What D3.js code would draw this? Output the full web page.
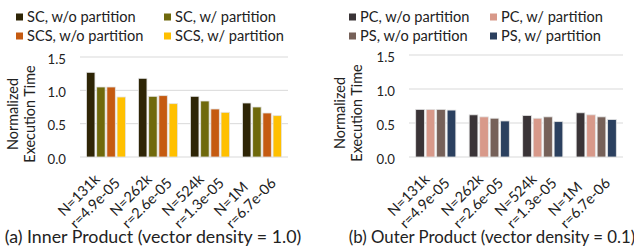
<!DOCTYPE html>
<html>
<head>
<meta charset="utf-8">
<script src="https://cdn.jsdelivr.net/npm/d3@7"></script>
<style>
  body { margin: 0; background: #fff; }
  svg { font-family: Lato, "Open Sans", sans-serif; fill: #222; }
</style>
</head>
<body>
<svg id="chart" width="634" height="249"></svg>
<script>
const groups = ["N=131k|r=4.9e-05", "N=262k|r=2.6e-05", "N=524k|r=1.3e-05", "N=1M|r=6.7e-06"];
const yTicks = [0, 0.5, 1.0, 1.5];

const innerSeries = ["SC, w/o partition", "SC, w/ partition", "SCS, w/o partition", "SCS, w/ partition"];
const innerColors = ["#2e2506", "#6f690c", "#c55a11", "#ffc000"];
const innerValues = [
  [1.27, 1.05, 1.05, 0.90],
  [1.18, 0.91, 0.92, 0.80],
  [0.91, 0.84, 0.72, 0.67],
  [0.81, 0.75, 0.66, 0.62]
];

const outerSeries = ["PC, w/o partition", "PC, w/ partition", "PS, w/o partition", "PS, w/ partition"];
const outerColors = ["#3a3437", "#d8998a", "#766159", "#2b405f"];
const outerValues = [
  [0.70, 0.70, 0.70, 0.69],
  [0.62, 0.59, 0.57, 0.53],
  [0.61, 0.57, 0.59, 0.52],
  [0.65, 0.62, 0.59, 0.55]
];

const svg = d3.select("#chart");

function panel(opt) {
  const g = svg.append("g");
  const x = d3.scaleBand().domain(groups).range([opt.left, opt.right])
    .paddingInner(0.25).paddingOuter(0.125);
  const xs = d3.scaleBand().domain(d3.range(4)).range([0, x.bandwidth()]).paddingInner(0.17);
  const y = d3.scaleLinear().domain([0, 1.5]).range([opt.bottom, opt.top]);

  // grid
  g.selectAll("line.grid").data(yTicks).join("line")
    .attr("x1", opt.left).attr("x2", opt.right)
    .attr("y1", d => y(d)).attr("y2", d => y(d))
    .attr("stroke", "#d9d9d9").attr("stroke-width", 1);

  g.selectAll("text.tick").data(yTicks).join("text")
    .attr("x", opt.left - 14).attr("y", d => y(d) + 2).attr("dy", "0.35em")
    .attr("text-anchor", "end").attr("font-size", 13.2)
    .text(d => d.toFixed(1));

  // axis title
  const ty = g.append("text")
    .attr("transform", `translate(${opt.titleX},${(opt.top + opt.bottom) / 2 + 7}) rotate(-90)`)
    .attr("text-anchor", "middle").attr("font-size", 14.4);
  ty.append("tspan").attr("x", 0).attr("dy", 0).text("Normalized");
  ty.append("tspan").attr("x", 0).attr("dy", 17).text("Execution Time");

  // bars
  const grp = g.selectAll("g.grp").data(opt.values).join("g")
    .attr("transform", (d, i) => `translate(${x(groups[i])},0)`);
  grp.selectAll("rect").data(d => d).join("rect")
    .attr("x", (d, j) => xs(j)).attr("width", xs.bandwidth())
    .attr("y", d => y(d)).attr("height", d => y(0) - y(d))
    .attr("fill", (d, j) => opt.colors[j])
    .attr("stroke", "#e3e3e3").attr("stroke-width", 0.8);

  // x labels, two lines rotated 45deg
  groups.forEach(gr => {
    const lines = gr.split("|");
    const t = g.append("text")
      .attr("font-size", 14.5)
      .attr("transform", `translate(${x(gr) + x.bandwidth() / 2 + 3},${opt.bottom + 15}) rotate(-45)`);
    const sp = lines.map((l, k) => t.append("tspan").attr("x", 0).attr("dy", k ? 17 : 0).text(l));
    const w = d3.max(sp, s => s.node().getComputedTextLength());
    sp.forEach(s => s.attr("x", -w));
  });

  // legend
  opt.series.forEach((s, i) => {
    const lx = i % 2 ? opt.legX2 : opt.legX1;
    const ly = i < 2 ? 17 : 36;
    g.append("rect").attr("x", lx).attr("y", ly - 3.5).attr("width", 7).attr("height", 7)
      .attr("fill", opt.colors[i]);
    g.append("text").attr("x", lx + 11).attr("y", ly).attr("dy", "0.35em")
      .attr("font-size", 14.6).text(s);
  });

  g.append("text").attr("x", opt.capX).attr("y", 237).attr("dy", "0.35em")
    .attr("text-anchor", "middle").attr("font-size", opt.capSize).text(opt.caption);
}

panel({
  left: 80, right: 288, top: 57, bottom: 157, titleX: 18,
  values: innerValues, colors: innerColors, series: innerSeries,
  legX1: 16, legX2: 164,
  caption: "(a) Inner Product (vector density = 1.0)", capX: 153, capSize: 17.8
});

panel({
  left: 409, right: 623, top: 55, bottom: 157, titleX: 345,
  values: outerValues, colors: outerColors, series: outerSeries,
  legX1: 349, legX2: 490,
  caption: "(b) Outer Product (vector density = 0.1)", capX: 492, capSize: 16.8
});
</script>
</body>
</html>
